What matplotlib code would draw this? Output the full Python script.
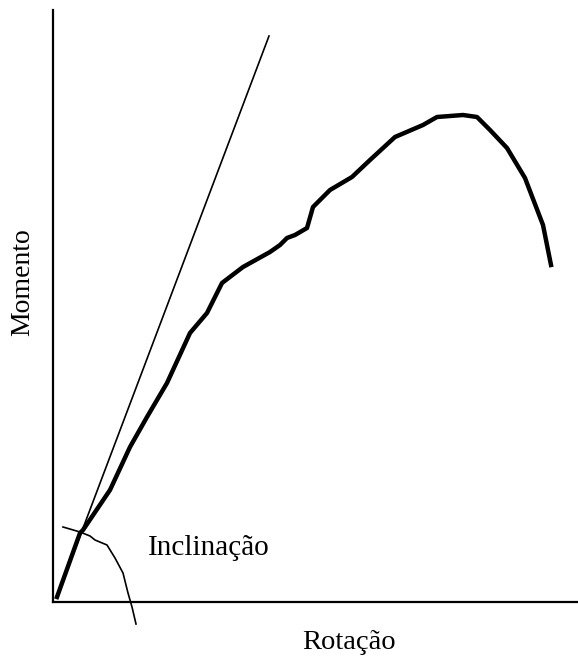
import matplotlib
matplotlib.use('Agg')
from matplotlib import pyplot as plt

# curve (x = rotation, y = moment, arbitrary units)
rot = [4, 27, 30, 57, 77, 94, 114, 137, 154, 169, 190, 217, 227, 234, 242, 254, 260,
       277, 299, 317, 342, 370, 384, 410, 424, 437, 454, 472, 490, 498]
mom = [5, 69, 72, 112, 155, 185, 219, 269, 289, 319, 335, 350, 357, 364, 367, 374, 395,
       412, 425, 442, 465, 477, 485, 487, 485, 472, 454, 424, 377, 337]

# secant line
sec_x = [4, 216]
sec_y = [5, 566]

# small arc marking the slope
arc_x = [10, 27, 37, 42, 54, 62, 70, 75, 79, 83]
arc_y = [75, 70, 66, 62, 57, 44, 29, 9, -5, -22]

fig = plt.figure(figsize=(5.78, 6.6), dpi=100)
ax = fig.add_axes([53/578, 58/660, 525/578, 592/660])

ax.plot(rot, mom, color='black', linewidth=3.2, solid_joinstyle='round')
ax.plot(sec_x, sec_y, color='black', linewidth=1.2)
ax.plot(arc_x, arc_y, color='black', linewidth=1.2, clip_on=False)

ax.set_xlim(0, 525)
ax.set_ylim(0, 592)
ax.spines['top'].set_visible(False)
ax.spines['right'].set_visible(False)
ax.spines['left'].set_linewidth(1.6)
ax.spines['bottom'].set_linewidth(1.6)
ax.set_xticks([])
ax.set_yticks([])

ax.text(95, 54, 'Inclinação', fontsize=21, family='Liberation Serif', va='center')
ax.set_xlabel('Rotação', fontsize=20.5, family='Liberation Serif', va='center')
ax.xaxis.set_label_coords(0.564, -0.068)
ax.set_ylabel('Momento', fontsize=20, family='Liberation Serif', va='center')
ax.yaxis.set_label_coords(-0.057, 0.54)

plt.savefig('out.png')
